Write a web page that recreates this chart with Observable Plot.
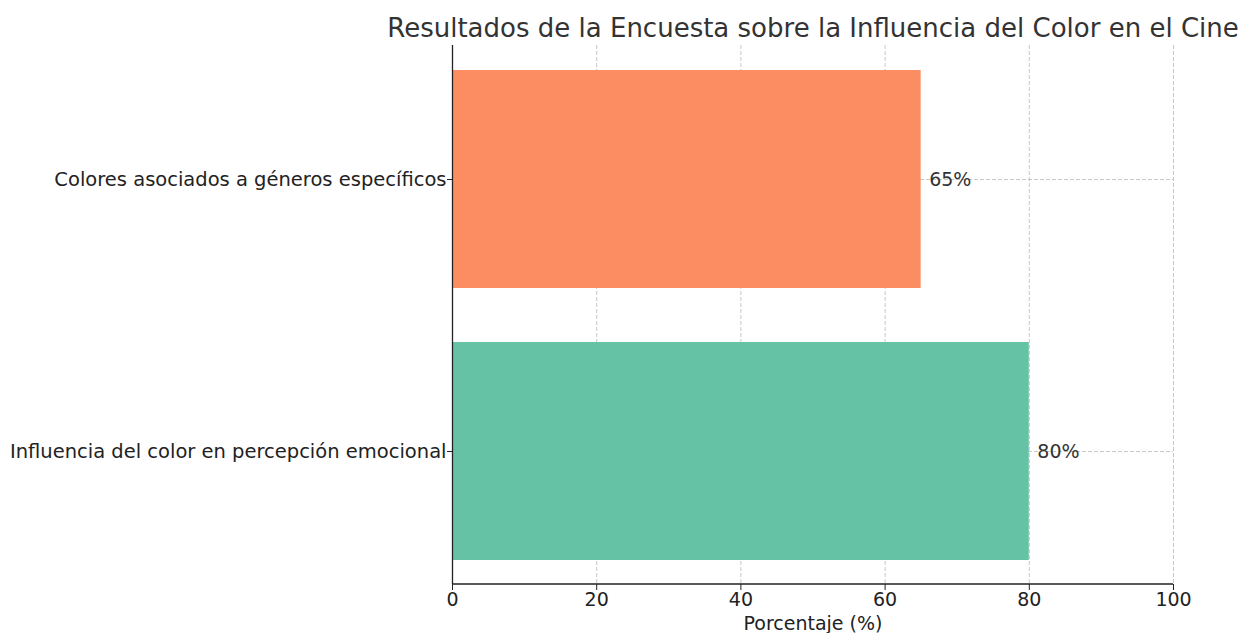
<!DOCTYPE html>
<html>
<head>
<meta charset="utf-8">
<script src="https://cdn.jsdelivr.net/npm/d3@7"></script>
<script src="https://cdn.jsdelivr.net/npm/@observablehq/plot@0.6"></script>
<style>
  body { margin: 0; background: #fff; }
  svg { font-family: "DejaVu Sans", sans-serif; }
</style>
</head>
<body>
<div id="chart"></div>
<script>
const categories = ["Colores asociados a géneros específicos", "Influencia del color en percepción emocional"];
const values = [65, 80];
const colors = ["#fc8d62", "#66c2a5"];
const xTicks = [0, 20, 40, 60, 80, 100];
const title = "Resultados de la Encuesta sobre la Influencia del Color en el Cine";
const xLabel = "Porcentaje (%)";

const data = categories.map((c, i) => ({category: c, value: values[i], color: colors[i], label: values[i] + "%"}));

const chart = Plot.plot({
  width: 1241,
  height: 633,
  marginLeft: 452,
  marginRight: 68,
  marginTop: 45,
  marginBottom: 49,
  style: {fontFamily: "'DejaVu Sans', sans-serif", fontSize: "19px", color: "#222", background: "#fff"},
  x: {domain: [0, 100], ticks: xTicks, label: null},
  y: {domain: categories, paddingInner: 0.2, paddingOuter: 0.09, label: null},
  marks: [
    Plot.gridX(xTicks.slice(1), {stroke: "#b0b0b0", strokeOpacity: 0.7, strokeDasharray: "4,2"}),
    Plot.gridY(categories, {stroke: "#b0b0b0", strokeOpacity: 0.7, strokeDasharray: "4,2"}),
    Plot.barX(data, {x: "value", y: "category", fill: "color"}),
    Plot.text(data, {x: "value", y: "category", text: "label", textAnchor: "start", dx: 8, fontSize: 19, fill: "#333"}),
    Plot.ruleX([0], {stroke: "#222", strokeWidth: 1.3}),
    Plot.axisX({ticks: xTicks, tickSize: 6, tickPadding: 2, fontSize: 19, stroke: "#222", label: null}),
    Plot.axisY({tickSize: 5, tickPadding: 1, fontSize: 19.5, stroke: "#222", label: null}),
    Plot.text([xLabel], {frameAnchor: "bottom", lineAnchor: "middle", dy: 39, fontSize: 19, fill: "#222"}),
    Plot.text([title], {frameAnchor: "top", lineAnchor: "middle", dy: -17, fontSize: 26, fill: "#333"})
  ]
});
// bottom spine
d3.select(chart).append("line")
  .attr("x1", 452).attr("x2", 1173).attr("y1", 584).attr("y2", 584)
  .attr("stroke", "#222").attr("stroke-width", 1.3);
document.getElementById("chart").appendChild(chart);
</script>
</body>
</html>
